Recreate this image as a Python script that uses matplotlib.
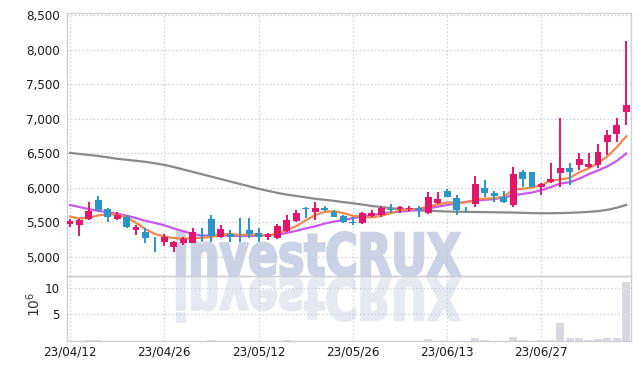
import matplotlib
matplotlib.use("Agg")
import matplotlib.pyplot as plt
from matplotlib.textpath import TextPath
from matplotlib.patches import PathPatch
from matplotlib.font_manager import FontProperties
from matplotlib.transforms import Affine2D
import numpy as np

# ---- data ----
open_ = [5470, 5455, 5540, 5820, 5690, 5545, 5580, 5390, 5360, 5285,
         5215, 5145, 5205, 5205, 5310, 5540, 5290, 5325, 5305, 5385,
         5340, 5280, 5270, 5375, 5520, 5705, 5655, 5710, 5650, 5595,
         5505, 5495, 5590, 5605, 5690, 5690, 5690, 5710, 5630, 5785,
         5950, 5845, 5690, 5760, 5990, 5920, 5870, 5750, 6230, 6230,
         6015, 6080, 6210, 6280, 6330, 6305, 6330, 6660, 6780, 7100]
high = [5540, 5545, 5790, 5880, 5700, 5650, 5605, 5455, 5420, 5290,
        5330, 5225, 5290, 5410, 5410, 5600, 5460, 5390, 5555, 5555,
        5410, 5350, 5470, 5600, 5670, 5720, 5790, 5730, 5680, 5610,
        5570, 5655, 5680, 5730, 5765, 5735, 5730, 5735, 5940, 5940,
        5975, 5895, 5720, 6170, 6110, 5950, 5950, 6305, 6255, 6235,
        6070, 6355, 7005, 6355, 6500, 6500, 6630, 6835, 7005, 8125]
low = [5435, 5305, 5530, 5655, 5510, 5535, 5420, 5310, 5195, 5075,
       5160, 5075, 5170, 5195, 5220, 5220, 5275, 5210, 5215, 5265,
       5210, 5245, 5260, 5360, 5510, 5560, 5535, 5660, 5570, 5495,
       5460, 5480, 5580, 5570, 5630, 5640, 5660, 5570, 5625, 5770,
       5860, 5605, 5650, 5725, 5860, 5800, 5775, 5715, 6015, 6010,
       5895, 6065, 6015, 6040, 6255, 6280, 6280, 6475, 6660, 6910]
close = [5515, 5530, 5660, 5680, 5570, 5605, 5435, 5425, 5275, 5280,
         5280, 5215, 5250, 5360, 5300, 5300, 5400, 5280, 5295, 5330,
         5290, 5325, 5445, 5530, 5635, 5695, 5710, 5680, 5580, 5500,
         5495, 5635, 5635, 5700, 5680, 5725, 5695, 5670, 5860, 5835,
         5870, 5680, 5685, 6060, 5920, 5885, 5790, 6205, 6120, 6015,
         6055, 6125, 6280, 6235, 6415, 6340, 6520, 6760, 6910, 7200]
ma_short = [5580, 5555, 5560, 5600, 5612, 5610, 5570, 5490, 5400, 5330,
            5290, 5270, 5262, 5268, 5275, 5285, 5322, 5328, 5315, 5321,
            5319, 5304, 5337, 5384, 5445, 5526, 5603, 5650, 5660, 5633,
            5593, 5578, 5569, 5593, 5629, 5675, 5687, 5694, 5726, 5757,
            5786, 5783, 5786, 5826, 5843, 5846, 5868, 5972, 5984, 6003,
            6037, 6104, 6119, 6142, 6222, 6279, 6358, 6454, 6590, 6746]
ma_mid = [5749, 5720, 5690, 5665, 5645, 5625, 5595, 5560, 5520, 5490,
          5455, 5410, 5370, 5330, 5305, 5310, 5310, 5305, 5300, 5300,
          5305, 5310, 5320, 5345, 5375, 5410, 5440, 5480, 5510, 5530,
          5560, 5580, 5600, 5625, 5640, 5655, 5665, 5680, 5700, 5725,
          5750, 5770, 5795, 5815, 5825, 5835, 5860, 5890, 5910, 5930,
          5965, 6010, 6060, 6080, 6130, 6195, 6250, 6310, 6390, 6495]
ma_long = [6505, 6490, 6475, 6460, 6440, 6420, 6405, 6390, 6375, 6355,
           6330, 6300, 6265, 6230, 6195, 6160, 6125, 6090, 6055, 6020,
           5985, 5955, 5925, 5900, 5880, 5860, 5840, 5825, 5810, 5790,
           5775, 5755, 5735, 5720, 5705, 5690, 5680, 5670, 5665, 5660,
           5655, 5652, 5650, 5648, 5646, 5644, 5642, 5640, 5636, 5632,
           5630, 5630, 5632, 5636, 5642, 5650, 5660, 5680, 5710, 5750]
volume = [0.05, 0.08, 0.2, 0.2, 0.06, 0.05, 0.05, 0.04, 0.05, 0.04,
          0.03, 0.04, 0.03, 0.06, 0.04, 0.2, 0.05, 0.03, 0.04, 0.04,
          0.03, 0.03, 0.06, 0.15, 0.08, 0.05, 0.06, 0.03, 0.04, 0.04,
          0.03, 0.05, 0.03, 0.04, 0.03, 0.03, 0.03, 0.04, 0.3, 0.06,
          0.05, 0.06, 0.04, 0.55, 0.25, 0.06, 0.05, 0.7, 0.25, 0.06,
          0.15, 0.25, 3.4, 0.5, 0.6, 0.25, 0.4, 0.55, 0.6, 11.1]
date_ticks = [0, 10, 20, 30, 40, 50]
date_labels = ["23/04/12", "23/04/26", "23/05/12", "23/05/26", "23/06/13", "23/06/27"]
price_ticks = [5000, 5500, 6000, 6500, 7000, 7500, 8000, 8500]
vol_ticks = [5, 10]

UP = "#e2176b"
DOWN = "#2c95c8"
GRID = "#c4c8da"
SPINE = "#cfcfd6"
TICK_FP = dict(family=["DejaVu Sans Condensed", "DejaVu Sans"], stretch="condensed",
               fontsize=9.5, color="#1a1a1a")

W, H = 639, 370
fig = plt.figure(figsize=(W / 100, H / 100), dpi=100)
fig.patch.set_facecolor("white")

# watermark layer in pixel coordinates, below the data axes
wm = fig.add_axes([0, 0, 1, 1], zorder=0)
wm.set_xlim(0, W)
wm.set_ylim(H, 0)
wm.axis("off")
tp = TextPath((0, 0), "investCRUX", size=100,
              prop=FontProperties(family="DejaVu Sans", weight="bold"))
ext = tp.get_extents()
sx = 283 / ext.width
sy = 42 / 72.9
upright = Affine2D().translate(-ext.x0, 0).scale(sx, -sy).translate(177, 275)
mirror = Affine2D().translate(-ext.x0, 0).scale(sx, sy).translate(177, 278)
wm.add_patch(PathPatch(upright.transform_path(tp), fc="#cbd2e6", ec="#cbd2e6", lw=1.8))
wm.add_patch(PathPatch(mirror.transform_path(tp), fc="#e7e9f1", ec="#e7e9f1", lw=1.8))

left, right = 67 / W, 631 / W
ax = fig.add_axes([left, (H - 276) / H, right - left, 263 / H], zorder=1)
axv = fig.add_axes([left, (H - 341) / H, right - left, 65 / H], zorder=1, sharex=ax)
for a in (ax, axv):
    a.set_facecolor("none")
    for s in a.spines.values():
        s.set_color(SPINE)
        s.set_linewidth(1)
    a.tick_params(length=0, pad=5)
    a.grid(True, color=GRID, linestyle=(0, (1, 2)), linewidth=0.9)
    a.set_axisbelow(True)

x = np.arange(len(close))

# moving averages
ax.plot(x, ma_long, color="#8a8a8a", lw=1.6, zorder=2)
ax.plot(x, ma_mid, color="#c957ea", lw=1.6, zorder=2)
ax.plot(x, ma_short, color="#ef8a4c", lw=1.6, zorder=2)

# candles
for i in x:
    o, h, l, c = open_[i], high[i], low[i], close[i]
    col = UP if c >= o else DOWN
    ax.vlines(i, l, h, color=col, lw=1.4, zorder=3)
    body = max(abs(c - o), 12)
    ax.bar(i, body, bottom=min(o, c), width=0.72, color=col, lw=0, zorder=4)

ax.set_ylim(4720, 8533)
ax.set_yticks(price_ticks)
ax.set_yticklabels([f"{v:,}" for v in price_ticks], **TICK_FP)
ax.set_xlim(-0.32, 59.5)
ax.set_xticks(date_ticks)
plt.setp(ax.get_xticklabels(), visible=False)

axv.bar(x, volume, width=0.85, color="#d8d8e0", lw=0, zorder=2)
axv.set_ylim(0, 12.2)
axv.set_yticks(vol_ticks)
axv.set_yticklabels([str(v) for v in vol_ticks], **TICK_FP)
axv.set_xticks(date_ticks)
axv.set_xticklabels(date_labels, **TICK_FP)
axv.tick_params(axis="x", pad=3)

fig.text(34 / W, 1 - 304 / H, r"$10^6$", rotation=90, ha="center", va="center",
         fontsize=10, color="#333333")

fig.savefig("out.png", dpi=100, facecolor="white")
